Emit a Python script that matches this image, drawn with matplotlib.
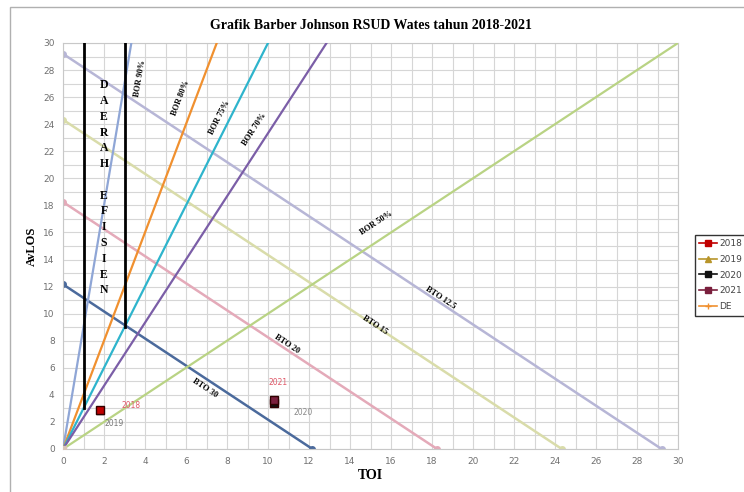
"""Grafik Barber Johnson RSUD Wates tahun 2018-2021."""

import math

import matplotlib
matplotlib.use("Agg")
import matplotlib.pyplot as plt
from matplotlib.lines import Line2D
from matplotlib.patches import Rectangle
import numpy as np

SERIF = ["Liberation Serif", "DejaVu Serif"]

# ---------------------------------------------------------------------------
# Data
# ---------------------------------------------------------------------------
AXIS_MAX = 30

BOR_LEVELS = [90, 80, 75, 70, 50]          # % bed occupancy
BTO_LEVELS = [30, 20, 15, 12.5]            # bed turn over per year
DAYS = 365

YEARS = ["2018", "2019", "2020", "2021"]
YEAR_TOI = [1.8, 1.8, 10.3, 10.3]
YEAR_LOS = [2.9, 2.9, 3.4, 3.6]

DE_TOI = [1, 3]          # efficient area: TOI bounds
DE_BOR_FLOOR = 75        # vertical lines start on the BOR 75% line

# ---------------------------------------------------------------------------
# Styles
# ---------------------------------------------------------------------------
BOR_COLORS = {90: "#8fa6d6", 80: "#f0902f", 75: "#2eb4cc", 70: "#7b5ea7", 50: "#b9d384"}
BTO_COLORS = {30: "#4b6a9c", 20: "#e4aab9", 15: "#d9dcaa", 12.5: "#b7b6d6"}
YEAR_STYLE = {
    "2018": dict(color="#c00000", marker="s"),
    "2019": dict(color="#b8952a", marker="^"),
    "2020": dict(color="#111111", marker="s"),
    "2021": dict(color="#7a1f3d", marker="s"),
}
# label anchors (y for BOR lines, x for BTO lines) and offsets
BOR_LABEL_Y = {90: 27.4, 80: 25.9, 75: 24.5, 70: 23.6, 50: 16.7}
BOR_LABEL_DX = {90: 0.7, 80: -0.75, 75: -0.55, 70: -0.8, 50: -1.4}
BTO_LABEL_X = {30: 6.9, 20: 10.9, 15: 15.2, 12.5: 18.4}
BTO_LABEL_DY = {30: -0.8, 20: 0.4, 15: 0.0, 12.5: 0.4}
YEAR_LABEL_POS = {"2018": (3.3, 3.25), "2019": (2.5, 1.9), "2020": (11.7, 2.7), "2021": (10.5, 4.9)}
YEAR_LABEL_COLOR = {"2018": "#e05a6a", "2019": "#777777", "2020": "#888888", "2021": "#e05a6a"}


def bor_ratio(bor: float) -> float:
    return bor / (100.0 - bor)


fig = plt.figure(figsize=(7.44, 4.92), dpi=100)
ax = fig.add_axes([63 / 744, 43 / 492, 615 / 744, 406 / 492])

# outer chart frame
fig.patches.append(Rectangle((10 / 744, -0.1), 1.2, 1.0 - 7 / 492 + 0.1,
                             transform=fig.transFigure, fill=False,
                             edgecolor="#b0b0b0", lw=1.0))

ax.set_xlim(0, AXIS_MAX)
ax.set_ylim(0, AXIS_MAX)
ax.set_xticks(np.arange(0, AXIS_MAX + 1, 2))
ax.set_yticks(np.arange(0, AXIS_MAX + 1, 2))
ax.set_xticks(np.arange(0, AXIS_MAX + 1, 1), minor=True)
ax.set_yticks(np.arange(0, AXIS_MAX + 1, 1), minor=True)
ax.grid(which="both", color="#d6d6d6", lw=0.8)
ax.set_axisbelow(True)
ax.tick_params(which="both", length=0, labelsize=6.5, labelcolor="#707070", pad=6)
for sp in ax.spines.values():
    sp.set_color("#c8c8c8")

# BTO lines
for bto in BTO_LEVELS:
    end = DAYS / bto
    ax.plot([0, end], [end, 0], color=BTO_COLORS[bto], lw=1.8, marker="o",
            markersize=4, zorder=2)
    lx = BTO_LABEL_X[bto]
    ax.text(lx, end - lx + BTO_LABEL_DY[bto], f"BTO {bto:g}", rotation=-45,
            transform_rotates_text=True, rotation_mode="anchor",
            ha="center", va="center", fontsize=6, fontweight="bold",
            family=SERIF, zorder=5)

# BOR lines
for bor in BOR_LEVELS:
    r = bor_ratio(bor)
    x_end = min(AXIS_MAX, AXIS_MAX / r)
    ax.plot([0, x_end], [0, x_end * r], color=BOR_COLORS[bor], lw=1.6, zorder=3)
    ly = BOR_LABEL_Y[bor]
    ax.text(ly / r + BOR_LABEL_DX[bor], ly, f"BOR {bor}%",
            rotation=math.degrees(math.atan(r)), transform_rotates_text=True,
            rotation_mode="anchor", ha="center", va="center", fontsize=6,
            fontweight="bold", family=SERIF, zorder=5)

# efficient area bounds
floor_r = bor_ratio(DE_BOR_FLOOR)
for x in DE_TOI:
    ax.plot([x, x], [x * floor_r, AXIS_MAX], color="black", lw=2, zorder=4)
ax.plot([0], [0], marker="s", color="#d9c4b8", markersize=5, zorder=4)
ax.text(np.mean(DE_TOI), 19.3, "\n".join("DAERAH EFISIEN"),
        ha="center", va="center", fontsize=8.5, fontweight="bold", family=SERIF,
        linespacing=1.42, zorder=5)

# yearly points (2019 first so it sits underneath 2018)
for i in (1, 0, 2, 3):
    year = YEARS[i]
    st = YEAR_STYLE[year]
    ax.plot([YEAR_TOI[i]], [YEAR_LOS[i]], linestyle="none", marker=st["marker"],
            color=st["color"], markersize=6, markeredgecolor="#300000", zorder=6)
    px, py = YEAR_LABEL_POS[year]
    ax.text(px, py, year, fontsize=5.5, color=YEAR_LABEL_COLOR[year],
            ha="center", va="center", zorder=6)

ax.set_title("Grafik Barber Johnson RSUD Wates tahun 2018-2021", fontsize=10,
             fontweight="bold", family=SERIF, pad=10)
ax.set_xlabel("TOI", fontsize=10, fontweight="bold", family=SERIF, labelpad=2)
ax.set_ylabel("AvLOS", fontsize=9, fontweight="bold", family=SERIF, labelpad=4)

handles = [Line2D([], [], color=YEAR_STYLE[y]["color"], marker=YEAR_STYLE[y]["marker"],
                  markersize=4, lw=1.2) for y in YEARS]
handles.append(Line2D([], [], color=BOR_COLORS[80], marker="+", markersize=4, lw=1.2))
leg = fig.legend(handles, YEARS + ["DE"], loc="upper left",
                 bbox_to_anchor=(690 / 744, 1 - 230 / 492), fontsize=6.5,
                 frameon=True, fancybox=False, edgecolor="black", handlelength=2.0,
                 handletextpad=0.2, borderpad=0.5, labelspacing=0.75,
                 labelcolor="#444444")
leg.get_frame().set_linewidth(1.0)

fig.savefig("out.png", dpi=100)
